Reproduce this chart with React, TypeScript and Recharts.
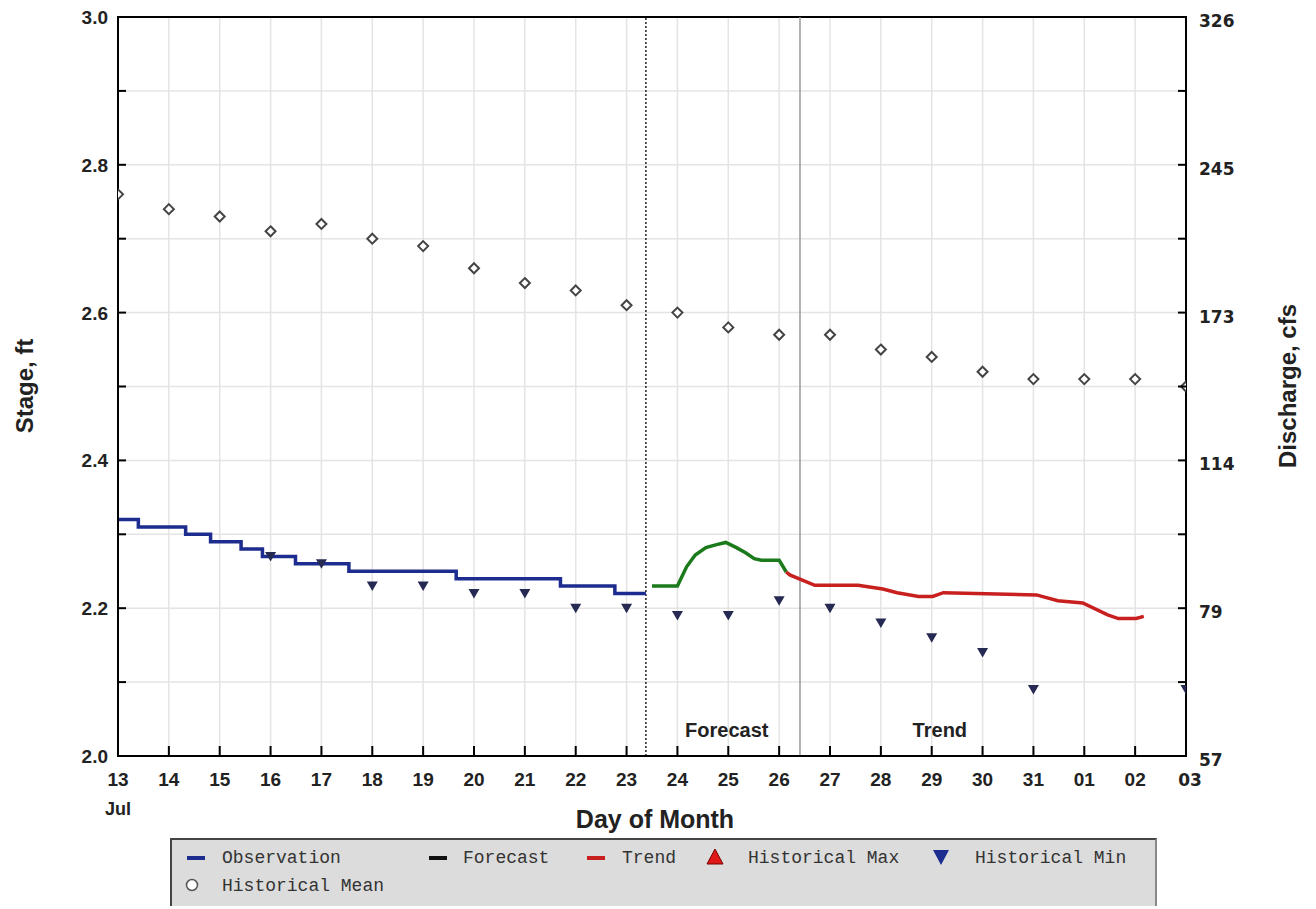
import { ComposedChart, Line, Scatter, XAxis, YAxis, CartesianGrid, ReferenceLine, ReferenceArea, ReferenceDot } from 'recharts';

// day-of-month tick labels, x = days since Jul 13
const days = ['13', '14', '15', '16', '17', '18', '19', '20', '21', '22', '23', '24', '25', '26', '27', '28', '29', '30', '31', '01', '02', '03'];
const dayTicks = days.map((_, i) => i);

// stage ticks (ft) and the discharge (cfs) labels on the right axis
const stageTicks = [2.0, 2.1, 2.2, 2.3, 2.4, 2.5, 2.6, 2.7, 2.8, 2.9, 3.0];
const labeledStage = [2.0, 2.2, 2.4, 2.6, 2.8, 3.0];
const dischargeLabels = ['57', '79', '114', '173', '245', '326'];

// observed stage, step changes
const obsT = [0, 0.4, 1.33, 1.82, 2.42, 2.84, 3.49, 4.54, 6.65, 8.7, 9.77, 10.38];
const obsV = [2.32, 2.31, 2.3, 2.29, 2.28, 2.27, 2.26, 2.25, 2.24, 2.23, 2.22, 2.22];

// forecast (green)
const fcT = [10.5, 11.0, 11.18, 11.35, 11.56, 11.77, 11.95, 12.16, 12.34, 12.51, 12.65, 13.0, 13.14];
const fcV = [2.23, 2.23, 2.256, 2.272, 2.282, 2.286, 2.289, 2.282, 2.275, 2.267, 2.265, 2.265, 2.249];

// trend (red)
const trT = [13.14, 13.21, 13.42, 13.7, 14.55, 15.04, 15.32, 15.74, 16.02, 16.23, 18.06, 18.48, 18.97, 19.46, 19.67, 20.02, 20.17];
const trV = [2.249, 2.245, 2.239, 2.231, 2.231, 2.226, 2.221, 2.216, 2.216, 2.221, 2.218, 2.21, 2.207, 2.191, 2.186, 2.186, 2.189];

// historical mean / min per day
const histMean = [2.76, 2.74, 2.73, 2.71, 2.72, 2.7, 2.69, 2.66, 2.64, 2.63, 2.61, 2.6, 2.58, 2.57, 2.57, 2.55, 2.54, 2.52, 2.51, 2.51, 2.51, 2.5];
const histMin = [null, null, null, 2.27, 2.26, 2.23, 2.23, 2.22, 2.22, 2.2, 2.2, 2.19, 2.19, 2.21, 2.2, 2.18, 2.16, 2.14, 2.09, null, null, 2.09];

const nowT = 10.38;
const trendStartT = 13.41;

const PLOT_L = 118;
const PLOT_R = 1186;
const PLOT_B = 756;

const BOLD = "'Liberation Sans', Arial, sans-serif";
const WIDE = "'DejaVu Sans', Verdana, sans-serif";
const MONO = "'Liberation Mono', 'DejaVu Sans Mono', monospace";

const pairs = (ts: number[], vs: number[]) => ts.map((t, i) => ({ t, v: vs[i] }));
const obsData = pairs(obsT, obsV);
const fcData = pairs(fcT, fcV);
const trData = pairs(trT, trV);
const meanData = histMean.map((v, t) => ({ t, v }));
const minData = histMin.map((v, t) => ({ t, v })).filter((d) => d.v !== null);

const Diamond = (p: any) => {
  const { cx, cy } = p;
  const r = 5;
  return <path d={`M${cx},${cy - r}L${cx + r},${cy}L${cx},${cy + r}L${cx - r},${cy}Z`} fill="#fff" stroke="#444" strokeWidth={2} />;
};

const DownTri = (p: any) => {
  const { cx, cy } = p;
  return <path d={`M${cx - 5.5},${cy - 4.5}L${cx + 5.5},${cy - 4.5}L${cx},${cy + 5}Z`} fill="#262a52" />;
};

const XTick = (p: any) => {
  const { x, payload } = p;
  const i = payload.value;
  const last = i === days.length - 1;
  return (
    <g>
      <line x1={x} x2={x} y1={PLOT_B} y2={PLOT_B - 10} stroke="#000" strokeWidth={2} />
      <text x={last ? x + 4 : x} y={PLOT_B + 30} textAnchor="middle" fontFamily={last ? WIDE : BOLD} fontWeight="bold" fontSize={last ? 17 : 19} fill="#222">
        {days[i]}
      </text>
      {i === 0 && (
        <text x={x} y={PLOT_B + 59} textAnchor="middle" fontFamily={BOLD} fontWeight="bold" fontSize={18} fill="#222">
          Jul
        </text>
      )}
    </g>
  );
};

const LeftTick = (p: any) => {
  const { y, payload } = p;
  const v = payload.value;
  const show = labeledStage.some((s) => Math.abs(s - v) < 1e-6);
  return (
    <g>
      <line x1={PLOT_L} x2={PLOT_L + 8} y1={y} y2={y} stroke="#000" strokeWidth={2} />
      {show && (
        <text x={PLOT_L - 10} y={y + 7} textAnchor="end" fontFamily={BOLD} fontWeight="bold" fontSize={19} fill="#222">
          {v.toFixed(1)}
        </text>
      )}
    </g>
  );
};

const RightTick = (p: any) => {
  const { y, payload } = p;
  const idx = labeledStage.findIndex((s) => Math.abs(s - payload.value) < 1e-6);
  return (
    <g>
      <line x1={PLOT_R - 8} x2={PLOT_R} y1={y} y2={y} stroke="#000" strokeWidth={2} />
      {idx >= 0 && (
        <text x={PLOT_R + 13} y={y + 10} textAnchor="start" fontFamily={WIDE} fontWeight="bold" fontSize={17} fill="#222">
          {dischargeLabels[idx]}
        </text>
      )}
    </g>
  );
};

const legendText: React.CSSProperties = { position: 'absolute', fontFamily: MONO, fontSize: 18, color: '#333', lineHeight: '20px' };
const dash = (color: string, left: number, top: number) => (
  <div style={{ position: 'absolute', left, top, width: 18, height: 4, background: color }} />
);

function Legend() {
  return (
    <div
      style={{
        position: 'absolute',
        left: 170,
        top: 838,
        width: 983,
        height: 66,
        background: '#dcdcdc',
        borderTop: '2px solid #444',
        borderLeft: '2px solid #444',
        borderRight: '2px solid #888',
      }}
    >
      {dash('#1c2d8f', 15, 16)}
      <span style={{ ...legendText, left: 50, top: 8 }}>Observation</span>
      {dash('#111', 257, 16)}
      <span style={{ ...legendText, left: 291, top: 8 }}>Forecast</span>
      {dash('#c8201e', 415, 16)}
      <span style={{ ...legendText, left: 450, top: 8 }}>Trend</span>
      <svg style={{ position: 'absolute', left: 534, top: 8 }} width={18} height={18}>
        <path d="M9,1L17,16L1,16Z" fill="#e01818" stroke="#700" strokeWidth={1} />
      </svg>
      <span style={{ ...legendText, left: 576, top: 8 }}>Historical Max</span>
      <svg style={{ position: 'absolute', left: 760, top: 8 }} width={18} height={18}>
        <path d="M1,2L17,2L9,17Z" fill="#1c2d8f" />
      </svg>
      <span style={{ ...legendText, left: 803, top: 8 }}>Historical Min</span>
      <svg style={{ position: 'absolute', left: 12, top: 37 }} width={16} height={16}>
        <circle cx={8} cy={8} r={5.5} fill="#fff" stroke="#555" strokeWidth={1.5} />
      </svg>
      <span style={{ ...legendText, left: 50, top: 36 }}>Historical Mean</span>
    </div>
  );
}

export default function App() {
  return (
    <div style={{ position: 'absolute', left: 0, top: 0, width: 1316, height: 909, background: '#fff' }}>
      <ComposedChart width={1316} height={909} margin={{ top: 17, right: 0, bottom: 73, left: 0 }}>
        <CartesianGrid yAxisId="left" stroke="#e4e4e4" strokeWidth={1.5} />
        <XAxis
          type="number"
          dataKey="t"
          domain={[0, 21]}
          ticks={dayTicks}
          interval={0}
          height={80}
          axisLine={{ stroke: '#000', strokeWidth: 2 }}
          tickLine={false}
          tick={<XTick />}
          allowDataOverflow
        />
        <YAxis
          yAxisId="left"
          domain={[2, 3]}
          ticks={stageTicks}
          interval={0}
          width={118}
          axisLine={{ stroke: '#000', strokeWidth: 2 }}
          tickLine={false}
          tick={<LeftTick />}
          allowDataOverflow
        />
        <YAxis
          yAxisId="right"
          orientation="right"
          domain={[2, 3]}
          ticks={stageTicks}
          interval={0}
          width={130}
          axisLine={{ stroke: '#000', strokeWidth: 2 }}
          tickLine={false}
          tick={<RightTick />}
          allowDataOverflow
        />
        <ReferenceArea yAxisId="left" x1={0} x2={21} y1={2} y2={3} fill="none" stroke="#000" strokeWidth={2} />
        <ReferenceLine yAxisId="left" x={nowT} stroke="#222" strokeWidth={1.5} strokeDasharray="2 2" />
        <ReferenceLine yAxisId="left" x={trendStartT} stroke="#999" strokeWidth={1.5} />
        <Line yAxisId="left" data={obsData} dataKey="v" type="stepAfter" stroke="#1c2d8f" strokeWidth={3.5} dot={false} isAnimationActive={false} />
        <Line yAxisId="left" data={fcData} dataKey="v" type="linear" stroke="#1b7a1b" strokeWidth={3.5} dot={false} isAnimationActive={false} />
        <Line yAxisId="left" data={trData} dataKey="v" type="linear" stroke="#c8201e" strokeWidth={3.5} dot={false} isAnimationActive={false} />
        <Scatter yAxisId="left" data={meanData} dataKey="v" shape={<Diamond />} isAnimationActive={false} />
        <Scatter yAxisId="left" data={minData} dataKey="v" shape={<DownTri />} isAnimationActive={false} />
        <ReferenceDot
          yAxisId="left"
          x={11.97}
          y={2.035}
          r={0}
          label={{ value: 'Forecast', position: 'center', fontFamily: BOLD, fontWeight: 'bold', fontSize: 20, fill: '#222' }}
        />
        <ReferenceDot
          yAxisId="left"
          x={16.16}
          y={2.035}
          r={0}
          label={{ value: 'Trend', position: 'center', fontFamily: BOLD, fontWeight: 'bold', fontSize: 20, fill: '#222' }}
        />
        <text x={655} y={828} textAnchor="middle" fontFamily={BOLD} fontWeight="bold" fontSize={25} fill="#222">
          Day of Month
        </text>
        <text x={33} y={386} transform="rotate(-90 33 386)" textAnchor="middle" fontFamily={BOLD} fontWeight="bold" fontSize={24} fill="#222">
          Stage, ft
        </text>
        <text x={1296} y={386} transform="rotate(-90 1296 386)" textAnchor="middle" fontFamily={BOLD} fontWeight="bold" fontSize={24} fill="#222">
          Discharge, cfs
        </text>
      </ComposedChart>
      <Legend />
    </div>
  );
}
